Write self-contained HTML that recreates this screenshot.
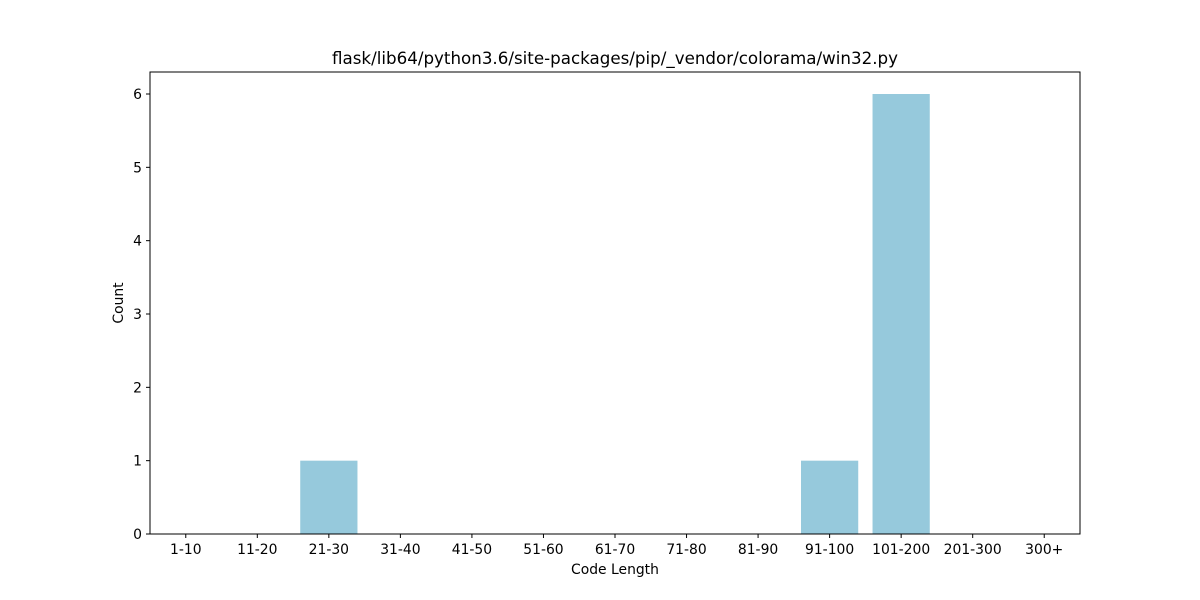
<!DOCTYPE html>
<html><head><meta charset="utf-8"><style>
html,body{margin:0;padding:0;background:#fff;}
svg{display:block;font-family:"DejaVu Sans","Liberation Sans",sans-serif;}
</style></head><body>
<svg id="chart" width="1200" height="600">
<text x="615" y="64" text-anchor="middle" font-size="16.7" fill="#000">flask/lib64/python3.6/site-packages/pip/_vendor/colorama/win32.py</text>
<g id="bars"></g>
<g id="xticks"></g>
<g id="yticks"></g>
<rect x="150" y="72" width="930" height="462" fill="none" stroke="#000" stroke-width="1"/>
<text x="615" y="574" text-anchor="middle" font-size="13.9">Code Length</text>
<text transform="translate(123,303) rotate(-90)" text-anchor="middle" font-size="13.9">Count</text>
</svg>
<script>
const categories = ["1-10","11-20","21-30","31-40","41-50","51-60","61-70","71-80","81-90","91-100","101-200","201-300","300+"];
const counts = [0,0,1,0,0,0,0,0,0,1,6,0,0];
const yTicks = [0,1,2,3,4,5,6];
const L=150,R=1080,T=72,B=534,xmin=-0.5,xmax=12.5,ymax=6.3;
const NS="http://www.w3.org/2000/svg";
const xs=v=>L+(v-xmin)/(xmax-xmin)*(R-L);
const ys=v=>B-v/ymax*(B-T);
const bars=document.getElementById('bars'),xt=document.getElementById('xticks'),yt=document.getElementById('yticks');
function mk(t,a){const e=document.createElementNS(NS,t);for(const k in a)e.setAttribute(k,a[k]);return e;}
categories.forEach((c,i)=>{
  const v=counts[i];
  if(v>0){
    const r=mk('rect',{x:xs(i-0.4),y:ys(v),width:xs(i+0.4)-xs(i-0.4),height:ys(0)-ys(v),fill:'#96c9dc'});
    
    
    bars.appendChild(r);
  }
  const tk=mk('line',{x1:xs(i),x2:xs(i),y1:B,y2:B+4,stroke:'#000'});
  
  
  xt.appendChild(tk);
  const tl=mk('text',{x:xs(i),y:B+20,'text-anchor':'middle','font-size':13.9});
  tl.textContent=c;
  
  
  xt.appendChild(tl);
});
yTicks.forEach(v=>{
  const tk=mk('line',{x1:L-4,x2:L,y1:ys(v),y2:ys(v),stroke:'#000'});
  
  
  yt.appendChild(tk);
  const tl=mk('text',{x:L-8,y:ys(v)+5,'text-anchor':'end','font-size':13.9});
  tl.textContent=v;
  
  
  yt.appendChild(tl);
});
</script>
</body></html>
